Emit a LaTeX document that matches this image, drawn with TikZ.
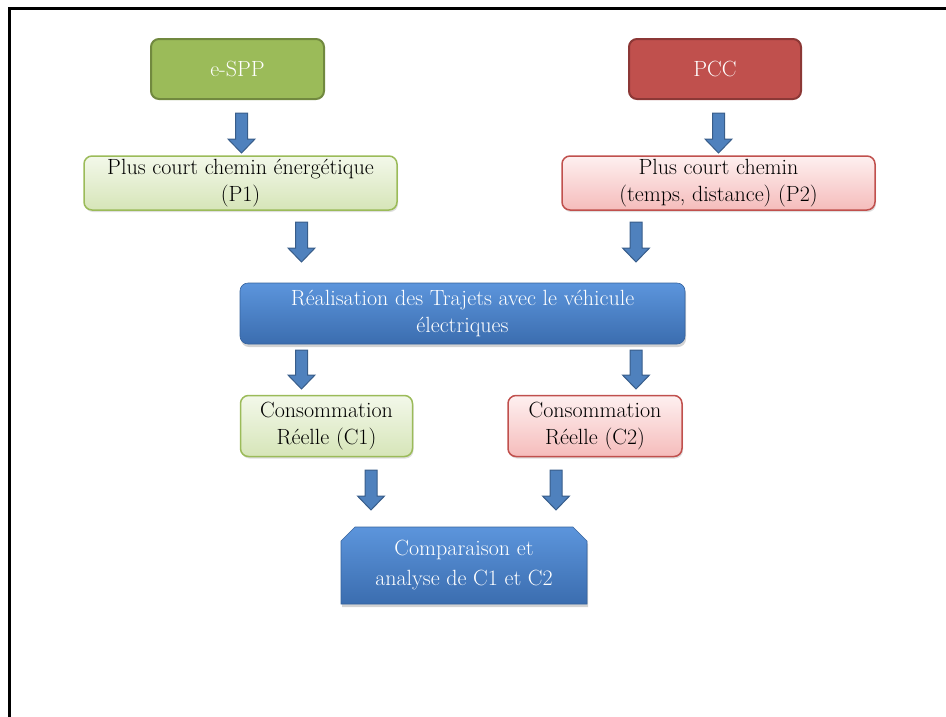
\documentclass[tikz,border=0pt]{standalone}
\usetikzlibrary{shapes.misc,shadows}
\definecolor{gDark}{HTML}{9BBB59}
\definecolor{gLine}{HTML}{71893F}
\definecolor{rDark}{HTML}{C0504D}
\definecolor{rLine}{HTML}{8C3836}
\definecolor{gTop}{HTML}{F3F8EA}
\definecolor{gBot}{HTML}{D6E5B8}
\definecolor{rTop}{HTML}{FEF0F0}
\definecolor{rBot}{HTML}{F5BCBB}
\definecolor{bTop}{HTML}{5C95DC}
\definecolor{bBot}{HTML}{3B6DAF}
\definecolor{aFill}{HTML}{4F81BD}
\definecolor{aLine}{HTML}{385D8A}
\tikzset{
  base/.style={inner sep=0pt, align=center, font=\fontsize{22}{27.5}\selectfont, rounded corners=8pt},
  solidgreen/.style={base, fill=gDark, draw=gLine, line width=2pt, text=white},
  solidred/.style={base, fill=rDark, draw=rLine, line width=2pt, text=white},
  lightgreen/.style={base, top color=gTop, bottom color=gBot, draw=gDark, line width=1.5pt,
     drop shadow={shadow xshift=1pt, shadow yshift=-2pt, opacity=0.25}},
  lightred/.style={base, top color=rTop, bottom color=rBot, draw=rDark, line width=1.5pt,
     drop shadow={shadow xshift=1pt, shadow yshift=-2pt, opacity=0.25}},
  bluebox/.style={base, top color=bTop, bottom color=bBot, draw=bBot!90!black, line width=0.6pt, text=white,
     drop shadow={shadow xshift=1pt, shadow yshift=-3pt, opacity=0.35}},
  blockarrow/.style={fill=aFill, draw=aLine, line width=1pt, line join=miter},
}
\newcommand\blockarr[3]{%
  \filldraw[blockarrow] ({#1-6},#2) -- ({#1+6},#2) -- ({#1+6},{#3-14}) -- ({#1+13.5},{#3-14})
   -- (#1,#3) -- ({#1-13.5},{#3-14}) -- ({#1-6},{#3-14}) -- cycle;}
\begin{document}
\begin{tikzpicture}[x=1pt,y=-1pt]
\useasboundingbox (0,0) rectangle (946,716);
\draw[line width=3pt] (9,717) -- (9,8) -- (947,8);

\node[solidgreen, minimum width=173pt, minimum height=60pt] (espp) at (237.5,69) {e-SPP};
\node[solidred, minimum width=172pt, minimum height=60pt] (pcc) at (715,69) {PCC};
\node[lightgreen, minimum width=313pt, minimum height=54pt] (p1) at (240.5,183) {Plus court chemin énergétique\\(P1)};
\node[lightred, minimum width=313pt, minimum height=54pt] (p2) at (718.5,183) {Plus court chemin\\(temps, distance) (P2)};
\node[bluebox, minimum width=445pt, minimum height=61pt] (real) at (462.5,313.5) {Réalisation des Trajets avec le véhicule\\électriques};
\node[lightgreen, minimum width=172pt, minimum height=61pt] (c1) at (326.5,426) {Consommation\\Réelle (C1)};
\node[lightred, minimum width=174pt, minimum height=61pt] (c2) at (595,426) {Consommation\\Réelle (C2)};
\node[bluebox, rounded corners=0pt, chamfered rectangle, chamfered rectangle corners={north west,north east},
      chamfered rectangle xsep=7pt, chamfered rectangle ysep=7pt,
      minimum width=246pt, minimum height=77pt, font=\fontsize{22}{30}\selectfont] (comp) at (464,565.5) {Comparaison et\\analyse de C1 et C2};

\blockarr{241.5}{113}{153}
\blockarr{718.5}{113}{153}
\blockarr{301.5}{222}{262}
\blockarr{636}{222}{262}
\blockarr{301.5}{350}{389}
\blockarr{636}{350}{389}
\blockarr{371}{470}{510}
\blockarr{556}{470}{510}
\end{tikzpicture}
\end{document}
